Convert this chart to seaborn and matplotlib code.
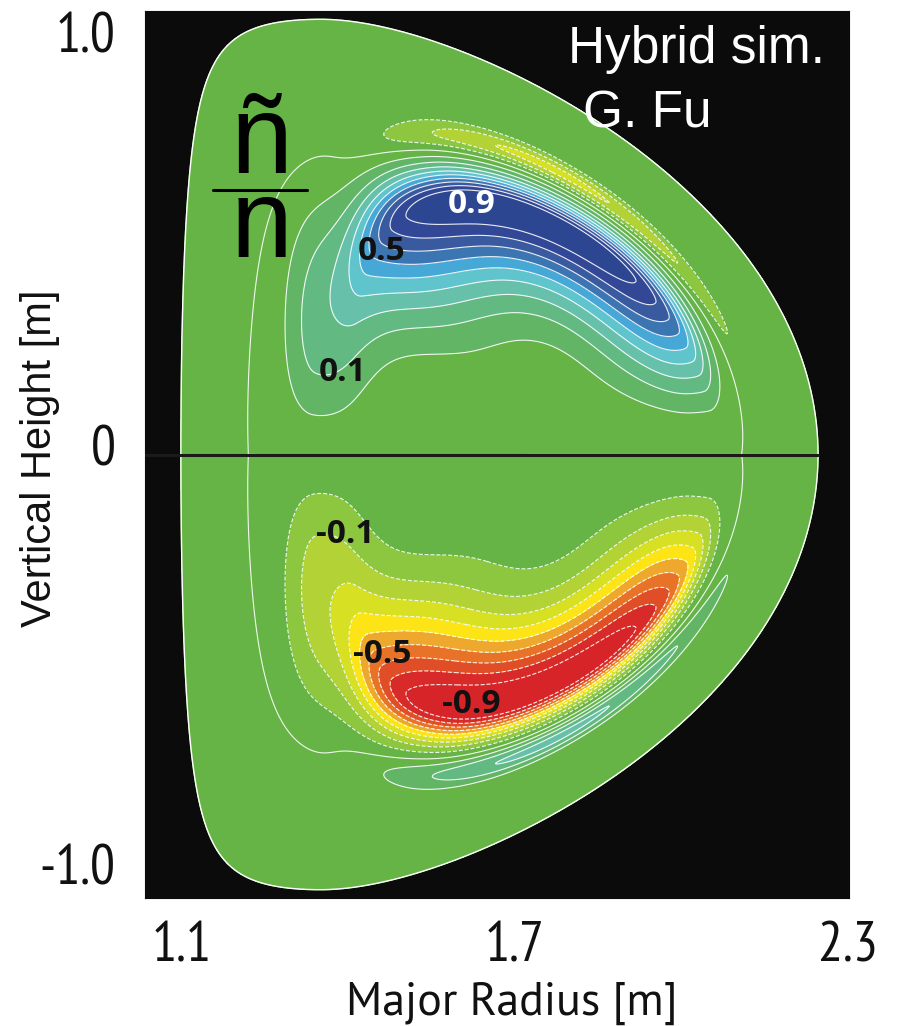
import numpy as np
import matplotlib
matplotlib.use("Agg")
import matplotlib.pyplot as plt
import matplotlib.transforms as mtransforms
import seaborn as sns

# ---------------- data ----------------
FILL_LEVELS = [-1.5, -0.9, -0.8, -0.7, -0.6, -0.5, -0.4, -0.3, -0.2, -0.1,
               0.1, 0.2, 0.3, 0.4, 0.5, 0.6, 0.7, 0.8, 0.9, 1.5]
FILL_COLORS = ["#d62428", "#d82a28", "#e04e28", "#e87328", "#eea82d",
               "#fce416", "#d7e023", "#b2d235", "#8dc63f",
               "#66b445",
               "#62b564", "#62ba82", "#66c0aa", "#60c4cd", "#46a8d6",
               "#3c76b2", "#3a5aa0", "#324896", "#2c4691"]
LINE_LEVELS = [-0.9, -0.8, -0.7, -0.6, -0.5, -0.4, -0.3, -0.2, -0.1, 0.0,
               0.1, 0.2, 0.3, 0.4, 0.5, 0.6, 0.7, 0.8, 0.9]

LABEL_TEXT = ["0.9", "0.5", "0.1", "-0.1", "-0.5", "-0.9"]
LABEL_R = [1.621, 1.460, 1.390, 1.394, 1.460, 1.621]
LABEL_Z = [0.609, 0.495, 0.200, -0.195, -0.487, -0.609]
LABEL_COLOR = ["white", "#111111", "#111111", "#111111", "#111111", "#111111"]

XTICKS = [1.1, 1.3, 1.5, 1.7, 1.9, 2.1, 2.3]
XTICKLABELS = ["1.1", "", "", "1.7", "", "", "2.3"]
YTICKS = [1.0, 0.0, -1.0]
YTICKLABELS = ["1.0", "0", "-1.0"]

# plasma boundary (D shape)
R_AXIS = 1.672
A_MINOR = 0.574
KAPPA = 1.847
DELTA = 0.596
ZETA_IN = 0.18
ZETA_OUT = 0.05
SHIFT = 0.05

# mode structure
MAIN_LOBE = [1.0, 1.15, 0.85, 1.26]              # amp, theta_c, width left, width right
MAIN_RADIAL = [0.58, 0.04, 0.19, 1.6, 0.072]     # s_c, cos-variation, inner width, inner power, outer width
SHOULDER = [0.25, 2.70, 0.45, 0.64, 0.14, 0.09]  # amp, theta_c, width, s_c, inner/outer radial width
NEG_BAND = [0.32, 1.00, 0.62, 0.155, 0.035]      # amp, theta_c, width, offset from ridge, radial width
BACKGROUND = [0.04, 0.68, -0.12, 0.20]           # amp, node s, node cos-variation, radial width

# ---------------- field on a flux-like grid ----------------
s = np.linspace(0.0, 1.0, 450)
th = np.linspace(-np.pi, np.pi, 1100)
S, TH = np.meshgrid(s, th, indexing="ij")
zeta = np.where(np.cos(TH) < 0, ZETA_IN, ZETA_OUT) * S
RR = R_AXIS + SHIFT * (1 - S**2) + A_MINOR * S * np.cos(TH + DELTA * S * np.sin(TH))
ZZ = KAPPA * A_MINOR * S * np.sin(TH + zeta * np.sin(2 * TH))

T = np.abs(TH)
sign = np.sign(TH)
a_m, tc, wl, wr = MAIN_LOBE
w_ang = np.where(T < tc, wl, wr)
g_main = a_m * np.exp(-((T - tc) / w_ang) ** 4)
sc = MAIN_RADIAL[0] + MAIN_RADIAL[1] * np.cos(T)
d = S - sc
p_main = np.where(d < 0,
                  np.exp(-(np.abs(d) / MAIN_RADIAL[2]) ** MAIN_RADIAL[3]),
                  np.exp(-(d / MAIN_RADIAL[4]) ** 2))

a_s, tcs, ws, scs, wsi, wso = SHOULDER
ds = S - scs
shoulder = (a_s * np.exp(-((T - tcs) / ws) ** 2)
            * np.exp(-(ds / np.where(ds < 0, wsi, wso)) ** 2))

a_n, tcn, wn, off_n, wnr = NEG_BAND
neg = a_n * np.exp(-((T - tcn) / wn) ** 2) * np.exp(-((S - sc - off_n) / wnr) ** 2)

edge = np.tanh(T / 0.18) * np.tanh((np.pi - T) / 0.15)
H = (g_main * p_main + shoulder - neg) * edge
s_nd = BACKGROUND[1] + BACKGROUND[2] * np.cos(T)
H += (BACKGROUND[0] * np.sin(T) * np.tanh((s_nd - S) / 0.05)
      * np.exp(-((S - s_nd) / BACKGROUND[3]) ** 2))
F = sign * H

# ---------------- drawing ----------------
sns.set_style("white")
COND = ["PT Sans Narrow", "DejaVu Sans"]
plt.rcParams["font.family"] = COND

fig = plt.figure(figsize=(9.04, 10.26), dpi=100)
ax = fig.add_axes([145 / 904, 1 - 898 / 1026, 704 / 904, 887 / 1026])
ax.set_facecolor("#0b0b0b")
ax.set_xlim(1.0333, 2.3018)
ax.set_ylim(-1.0804, 1.0804)

bR = RR[-1]
bZ = ZZ[-1]
ax.fill(bR, bZ, color="#66b445", zorder=1)
ax.contourf(RR, ZZ, F, levels=FILL_LEVELS, colors=FILL_COLORS, zorder=2)
ax.contour(RR, ZZ, F, levels=LINE_LEVELS, colors="white", linewidths=0.8,
           alpha=0.9, zorder=3)
ax.plot(bR, bZ, color="white", lw=1.0, zorder=4)
ax.plot([1.0, bR.max()], [0, 0], color="#1a1a1a", lw=2.2, zorder=5, clip_on=True)

for txt, r, z, c in zip(LABEL_TEXT, LABEL_R, LABEL_Z, LABEL_COLOR):
    ax.text(r, z, txt, color=c, fontsize=24, fontweight="bold",
            family=["Open Sans", "DejaVu Sans"], ha="center", va="center", zorder=6)

ax.set_xticks(XTICKS)
ax.set_xticklabels(XTICKLABELS)
ax.set_yticks(YTICKS)
ax.set_yticklabels(YTICKLABELS)
ax.tick_params(axis="x", direction="out", length=8, width=1.3, color="#111111",
               pad=9, labelsize=40, labelcolor="#111111")
ax.tick_params(axis="y", direction="out", length=9, width=1.3, color="#111111",
               pad=12, labelsize=40, labelcolor="#111111")
for lab, up in zip(ax.get_yticklabels(), [12, 9, 0]):
    lab.set_transform(lab.get_transform()
                      + mtransforms.ScaledTranslation(0, up / 100, fig.dpi_scale_trans))
for sp in ax.spines.values():
    sp.set_color("#0b0b0b")

ax.text(0.601, 0.941, "Hybrid sim.", transform=ax.transAxes, color="white",
        fontsize=37, family=["Liberation Sans", "DejaVu Sans"], ha="left", va="baseline")
ax.text(0.622, 0.869, "G. Fu", transform=ax.transAxes, color="white",
        fontsize=37, family=["Liberation Sans", "DejaVu Sans"], ha="left", va="baseline")
ax.text(0.165, 0.817, "ñ", transform=ax.transAxes, color="black",
        fontsize=80, family=["Liberation Sans", "DejaVu Sans"], ha="center", va="baseline", zorder=7)
ax.text(0.165, 0.7227, "n", transform=ax.transAxes, color="black",
        fontsize=80, family=["Liberation Sans", "DejaVu Sans"], ha="center", va="baseline", zorder=7)
ax.plot([0.0966, 0.230], [0.798, 0.798], transform=ax.transAxes, color="black",
        lw=2.2, zorder=7)

fig.text(512 / 904, 11 / 1026, "Major Radius [m]", fontsize=33, color="#111111",
         ha="center", va="baseline", family=["PT Sans", "DejaVu Sans"])
fig.text(40 / 904, 0.553, "Vertical Height [m]", fontsize=30, color="#111111",
         rotation=90, ha="center", va="center", family=["Liberation Sans", "DejaVu Sans"])

fig.savefig("out.png", dpi=100, facecolor="white")
